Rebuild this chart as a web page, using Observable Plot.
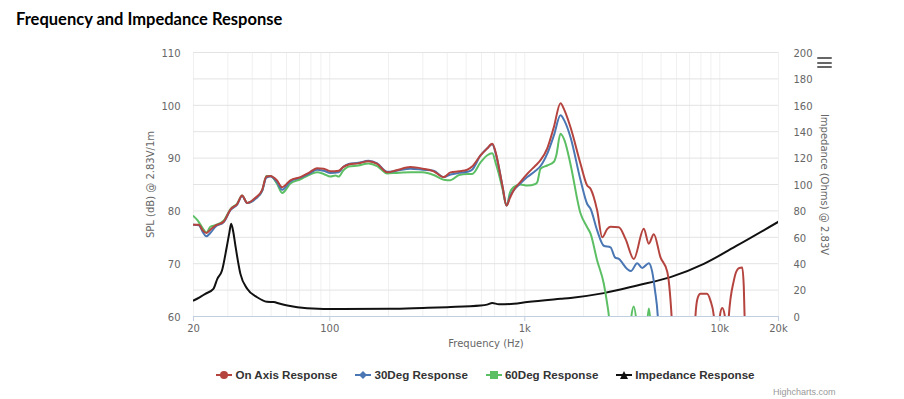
<!DOCTYPE html>
<html>
<head>
<meta charset="utf-8">
<script src="https://cdn.jsdelivr.net/npm/d3@7"></script>
<script src="https://cdn.jsdelivr.net/npm/@observablehq/plot@0.6"></script>
<style>
  body { margin: 0; background: #fff; }
  #wrap { position: relative; width: 904px; height: 399px; overflow: hidden; background: #fff; }
  #title { position: absolute; left: 16px; top: 8px; font: 700 16.5px Lato, sans-serif; line-height: 22px; color: #000; white-space: nowrap; }
  #chart { position: absolute; left: 0; top: 0; }
  #menu { position: absolute; left: 817px; top: 57px; width: 15px; height: 12px; }
  #menu span { position: absolute; left: 0; width: 15px; height: 2.4px; background: #666; border-radius: 1px; }
  #legend { position: absolute; left: 193px; top: 367px; width: 585px; display: flex; justify-content: center; gap: 18px;
            font: 700 11.6px "Liberation Sans", Arial, sans-serif; color: #333; line-height: 16px; white-space: nowrap; }
  #legend .item { display: flex; align-items: center; }
  #legend svg { margin-right: 3px; }
  #credit { position: absolute; left: 773px; top: 387px; font: 9px "Liberation Sans", Arial, sans-serif; color: #999; }
</style>
</head>
<body>
<div id="wrap">
  <div id="chart"></div>
  <div id="title">Frequency and Impedance Response</div>
  <div id="menu"><span style="top:0"></span><span style="top:4.5px"></span><span style="top:9px"></span></div>
  <div id="legend"></div>
  <div id="credit">Highcharts.com</div>
</div>
<script>
// ---------- data ----------
const seriesNames = ["On Axis Response", "30Deg Response", "60Deg Response", "Impedance Response"];
const seriesColors = ["#b5443f", "#4a77b4", "#5cbf64", "#111111"];

const onAxisFreq = [20, 21.3, 22.3, 23.3, 24.5, 25.9, 28.6, 31, 33.5, 35.5, 37.7, 41.6, 45, 47.3, 49.6, 53.5, 57, 62.8, 70.7, 78, 86, 93, 100.8, 111, 117, 125, 140, 158, 175, 197, 220, 259, 300, 341, 384, 416, 460, 507, 537, 593, 640, 681, 710, 736, 770, 806, 840, 877, 950, 1029, 1135, 1204, 1302, 1410, 1524, 1600, 1714, 1932, 2089, 2173, 2350, 2495, 2650, 2753, 3036, 3284, 3622, 4076, 4324, 4586, 4965, 5375, 5500, 5700, 5900, 7300, 7499, 7700, 7950, 8600, 8955, 9310, 9500, 9900, 10000, 10290, 10620, 10800, 11000, 11120, 11800, 12470, 13030, 13280, 13400, 13600, 20000];
const onAxisSPL = [77.4, 77.4, 76.3, 75.8, 76.5, 77.2, 78.0, 80.3, 81.3, 82.9, 81.5, 82.5, 84.0, 86.5, 86.6, 85.8, 84.5, 85.8, 86.4, 87.2, 88.1, 88.0, 87.5, 87.6, 88.3, 88.8, 89.0, 89.4, 88.9, 87.3, 87.7, 88.3, 88.0, 87.5, 86.4, 87.3, 87.5, 87.8, 88.4, 90.5, 91.8, 92.7, 91.0, 88.3, 84.5, 81.0, 82.5, 83.9, 85.5, 87.0, 88.6, 89.6, 91.8, 95.9, 100.4, 99.0, 95.9, 88.9, 84.8, 84.2, 80.1, 75.0, 76.6, 77.0, 76.9, 74.7, 70.9, 76.6, 73.8, 75.6, 71.2, 68.5, 66.0, 58.0, 45, 45, 60.0, 63.5, 64.3, 64.3, 63.0, 60.2, 50, 50, 60.0, 61.6, 60.0, 52, 52, 60.0, 66.8, 69.1, 69.3, 65.5, 60.0, 45, 45];

const deg30Freq = [20, 21.3, 22.3, 23.3, 24.5, 25.9, 28.6, 31, 33.5, 35.5, 37.7, 41.6, 45, 47.3, 49.6, 53.5, 57, 62.8, 70.7, 78, 86, 93, 100.8, 111, 117, 125, 140, 158, 175, 197, 220, 259, 300, 341, 384, 416, 460, 507, 537, 593, 640, 681, 710, 736, 770, 806, 840, 877, 950, 1029, 1135, 1204, 1302, 1410, 1524, 1600, 1714, 1932, 2089, 2173, 2350, 2542, 2753, 2900, 3036, 3351, 3500, 3771, 4002, 4328, 4500, 4650, 4810, 5000, 20000];
const deg30SPL = [77.4, 77.3, 76.0, 75.2, 75.9, 77.0, 77.9, 80.2, 81.2, 82.8, 81.5, 82.3, 83.8, 86.3, 86.5, 85.5, 84.0, 85.6, 86.3, 87.0, 87.8, 87.6, 87.2, 87.3, 88.3, 88.9, 89.1, 89.5, 89.0, 87.4, 87.6, 88.0, 87.8, 87.6, 86.4, 86.9, 87.2, 87.4, 87.8, 90.5, 91.8, 92.6, 90.8, 88.3, 84.5, 81.0, 82.8, 83.9, 85.2, 86.4, 87.6, 88.5, 90.8, 94.3, 98.1, 97.0, 94.0, 85.8, 81.3, 80.4, 76.3, 73.4, 73.1, 71.2, 70.9, 69.0, 68.6, 70.1, 69.2, 70.1, 68.5, 65.0, 60.0, 45, 40];

const deg60Freq = [20, 21, 22.5, 23.3, 24.4, 25.9, 28.6, 31, 33.5, 35.5, 37.7, 41.6, 45, 47.3, 49.6, 53.5, 57, 62.8, 70.7, 78, 86, 93, 100.8, 107, 111, 117, 125, 140, 158, 175, 197, 220, 259, 300, 341, 384, 416, 460, 507, 537, 593, 640, 681, 710, 736, 770, 806, 840, 877, 950, 1029, 1135, 1160, 1204, 1302, 1410, 1450, 1524, 1600, 1714, 1932, 2089, 2173, 2350, 2542, 2646, 2700, 2800, 3300, 3440, 3622, 3800, 4000, 4200, 4328, 4453, 4600, 20000];
const deg60SPL = [79.0, 78.2, 76.5, 75.9, 77.0, 77.3, 78.2, 80.4, 81.4, 82.9, 81.5, 82.4, 83.8, 86.6, 86.6, 85.2, 83.4, 85.2, 86.0, 86.8, 87.3, 87.0, 86.5, 86.7, 86.5, 87.6, 88.4, 88.6, 89.0, 88.5, 87.1, 87.2, 87.3, 87.3, 86.8, 85.9, 85.8, 86.8, 87.0, 87.0, 89.2, 90.5, 90.9, 89.0, 87.0, 84.0, 81.0, 83.5, 84.5, 85.0, 84.8, 85.1, 85.5, 88.0, 88.6, 89.3, 90.5, 94.6, 93.3, 88.9, 79.5, 76.9, 75.7, 70.6, 66.2, 62.4, 60.0, 50, 50, 57, 61.9, 57, 50, 57, 61.5, 57, 45, 40];

const impFreq = [20, 21.5, 23, 25.3, 26.5, 28, 29.6, 30.5, 31.2, 32, 32.7, 34.8, 37.7, 42.4, 47.6, 51.6, 55, 60.6, 76.4, 113, 204, 300, 400, 593, 640, 681, 736, 877, 1029, 1524, 1715, 2541, 3771, 5588, 8280, 12280, 20000];
const impedance = [12.1, 14.5, 17.2, 21, 28.5, 34.8, 52.5, 63, 70.2, 64, 55, 32.3, 21, 14.6, 11.2, 10.9, 9.8, 8.3, 6.3, 5.6, 5.8, 6.5, 7.1, 8.3, 9.0, 10.3, 9.2, 9.6, 10.9, 13.4, 14.1, 17.7, 23.5, 29.8, 39.9, 53.8, 71.8];

const xTickValues = [20, 100, 1000, 10000, 20000];
const xTickLabels = ["20", "100", "1k", "10k", "20k"];
const splTicks = [60, 70, 80, 90, 100, 110];
const impTicks = [0, 20, 40, 60, 80, 100, 120, 140, 160, 180, 200];
const xTitle = "Frequency (Hz)";
const yLeftTitle = "SPL (dB) @ 2.83V/1m";
const yRightTitle = "Impedance (Ohms) @ 2.83V";

// ---------- build ----------
const splMin = 60, splMax = 110, impMax = 200;
const impToSpl = v => splMin + v * (splMax - splMin) / impMax;   // secondary axis mapping
const splToImp = v => Math.round((v - splMin) * impMax / (splMax - splMin));

const mk = (fs, vs, name) => fs.map((f, i) => ({f, v: vs[i], name}));
const onAxis = mk(onAxisFreq, onAxisSPL, seriesNames[0]);
const deg30 = mk(deg30Freq, deg30SPL, seriesNames[1]);
const deg60 = mk(deg60Freq, deg60SPL, seriesNames[2]);
const imp = mk(impFreq, impedance, seriesNames[3]);

// minor log grid (1..9 per decade)
const minorGrid = [];
for (let p = 1; p <= 4; p++) for (let m = 1; m <= 9; m++) {
  const v = m * Math.pow(10, p);
  if (v >= 20 && v <= 20000) minorGrid.push(v);
}
const labelMap = new Map(xTickValues.map((v, i) => [v, xTickLabels[i]]));

const chart = Plot.plot({
  width: 904,
  height: 360,
  marginLeft: 193,
  marginRight: 126,
  marginTop: 52,
  marginBottom: 44,
  x: {type: "log", domain: [20, 20000]},
  y: {domain: [splMin, splMax]},
  style: {fontFamily: "DejaVu Sans, sans-serif", fontSize: "10px", color: "#666", background: "transparent", overflow: "visible"},
  marks: [
    Plot.ruleX(minorGrid, {stroke: "#f0f0f0", strokeWidth: 1}),
    Plot.ruleY(impTicks.map(impToSpl).filter(v => v > splMin), {stroke: "#e3e3e3", strokeWidth: 1}),
    Plot.ruleY([splMin], {stroke: "#c0d0e0", strokeWidth: 1}),
    Plot.axisX({ticks: xTickValues, tickFormat: d => labelMap.get(d), tickSize: 5, tickPadding: 3, stroke: "#c0d0e0", fill: "#666", label: null}),
    Plot.axisY({anchor: "left", ticks: splTicks, tickSize: 0, tickPadding: 13, dy: 1, fill: "#666", label: null}),
    Plot.axisY({anchor: "right", ticks: impTicks.map(impToSpl), tickFormat: d => String(splToImp(d)), tickSize: 0, tickPadding: 15, dy: 1, fill: "#666", label: null}),
    Plot.text([xTitle], {text: d => d, frameAnchor: "bottom", dy: 30, fill: "#666"}),
    Plot.text([yLeftTitle], {text: d => d, frameAnchor: "left", textAnchor: "middle", dx: -43, rotate: -90, fill: "#666"}),
    Plot.text([yRightTitle], {text: d => d, frameAnchor: "right", textAnchor: "middle", dx: 46, rotate: 90, fill: "#666"}),
    Plot.line(imp, {x: "f", y: d => impToSpl(d.v), stroke: seriesColors[3], strokeWidth: 2, curve: "monotone-x", clip: true}),
    Plot.line(deg60, {x: "f", y: "v", stroke: seriesColors[2], strokeWidth: 2, curve: "monotone-x", clip: true}),
    Plot.line(deg30, {x: "f", y: "v", stroke: seriesColors[1], strokeWidth: 2, curve: "monotone-x", clip: true}),
    Plot.line(onAxis, {x: "f", y: "v", stroke: seriesColors[0], strokeWidth: 2, curve: "monotone-x", clip: true})
  ]
});
document.getElementById("chart").appendChild(chart);

// ---------- legend ----------
const markerShapes = [
  c => `<circle cx="8" cy="6" r="4" fill="${c}"/>`,
  c => `<path d="M8 2 L12 6 L8 10 L4 6 Z" fill="${c}"/>`,
  c => `<rect x="4" y="2" width="8" height="8" fill="${c}"/>`,
  c => `<path d="M8 2 L12 10 L4 10 Z" fill="${c}"/>`
];
const legend = document.getElementById("legend");
seriesNames.forEach((name, i) => {
  const item = document.createElement("div");
  item.className = "item";
  item.innerHTML = `<svg width="16" height="12" viewBox="0 0 16 12"><line x1="0" y1="6" x2="16" y2="6" stroke="${seriesColors[i]}" stroke-width="2"/>${markerShapes[i](seriesColors[i])}</svg><span>${name}</span>`;
  legend.appendChild(item);
});
</script>
</body>
</html>
